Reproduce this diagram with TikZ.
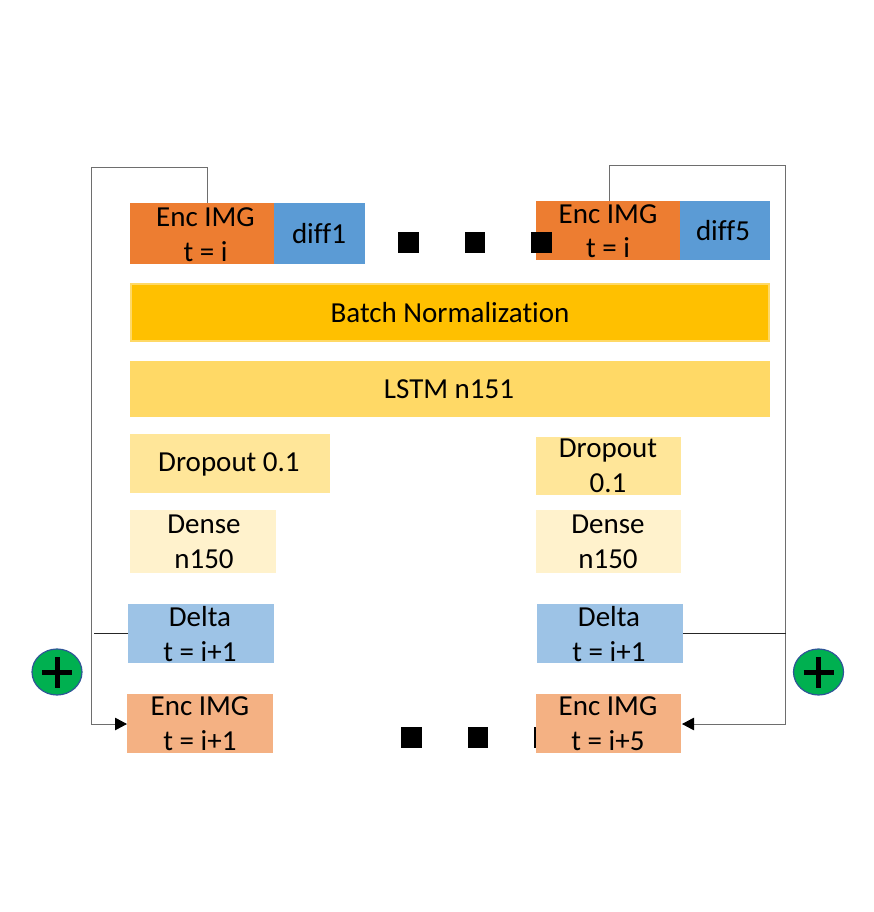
\documentclass[tikz,border=0pt]{standalone}
\usepackage{fontspec}
\setmainfont{Carlito}[Ligatures=NoCommon]
\usetikzlibrary{shapes.geometric,arrows.meta}
\definecolor{encdark}{HTML}{ED7D31}
\definecolor{diffblue}{HTML}{5B9BD5}
\definecolor{batchfill}{HTML}{FFC000}
\definecolor{batchedge}{HTML}{FFD966}
\definecolor{lstmfill}{HTML}{FFD966}
\definecolor{dropfill}{HTML}{FFE699}
\definecolor{densefill}{HTML}{FFF2CC}
\definecolor{deltafill}{HTML}{9DC3E6}
\definecolor{encsoft}{HTML}{F4B183}
\definecolor{plusgreen}{HTML}{00B050}
\definecolor{plusedge}{HTML}{2F5597}
\definecolor{wire}{HTML}{6E6E6E}
\tikzset{
  box/.style={anchor=center,inner sep=0pt,outer sep=0pt,draw=none,rectangle},
  txt/.style={anchor=center,inner sep=0pt,outer sep=0pt,align=center,text=black,font=\fontsize{29}{34.5}\selectfont},
  dotsq/.style={fill=black,inner sep=0pt,outer sep=0pt,minimum size=20.5pt,rectangle},
  wireline/.style={draw=wire,line width=1pt},
  darkline/.style={draw=black!85,line width=0.9pt},
  tipline/.style={-{Triangle[length=12pt,width=12.5pt,color=black,fill=black]}},
  plus/.style={ellipse,fill=plusgreen,draw=plusedge,line width=1.2pt,minimum width=50pt,minimum height=46pt,inner sep=0pt},
  plusbar/.style={line width=5pt,draw=black}
}
% name, x1, y1, x2, y2, colour
\newcommand{\bx}[6]{%
  \pgfmathsetmacro{\bw}{#4-#2}\pgfmathsetmacro{\bh}{#5-#3}%
  \node[box,fill=#6,minimum width=\bw pt,minimum height=\bh pt] (#1) at ({(#2+#4)/2},{(#3+#5)/2}) {};}
\begin{document}
\begin{tikzpicture}[x=1pt,y=-1pt]
\useasboundingbox (0,0) rectangle (874,912);
% bottom dots lie behind the last box
\node[dotsq] (db1) at (411.5,737.5) {};
\node[dotsq] (db2) at (478,737.5) {};
\node[dotsq] (db3) at (544,737.5) {};
% boxes
\bx{enc1}{130}{203}{274}{264}{encdark}
\bx{diff1}{274}{203}{365}{264}{diffblue}
\bx{enc5}{536}{201}{680}{260}{encdark}
\bx{diff5}{680}{201}{770}{260}{diffblue}
\node[box,fill=batchfill,draw=batchedge,line width=2pt,minimum width=638pt,minimum height=57pt] (batch) at (450,312.5) {};
\bx{lstm}{130}{361}{770}{417}{lstmfill}
\bx{dropL}{130}{434}{330}{493}{dropfill}
\bx{dropR}{536}{437}{681}{495}{dropfill}
\bx{denseL}{130}{510}{276}{573}{densefill}
\bx{denseR}{536}{510}{681}{573}{densefill}
\bx{deltaL}{128}{604}{274}{663}{deltafill}
\bx{deltaR}{537}{604}{683}{663}{deltafill}
\bx{encbL}{127}{694}{273}{753}{encsoft}
\bx{encbR}{536}{694}{681}{753}{encsoft}
% texts
\node[txt] (tenc1) at (205.5,234.5) {Enc IMG\\t = i};
\node[txt] (tdiff1) at (319,233.5) {diff1};
\node[txt] (tenc5) at (608,231) {Enc IMG\\t = i};
\node[txt] (tdiff5) at (723,231) {diff5};
\node[txt] (tbatch) at (450,313) {Batch Normalization};
\node[txt] (tlstm) at (449,389) {LSTM n151};
\node[txt] (tdropL) at (229,464.5) {Dropout 0.1};
\node[txt] (tdropR) at (608,466) {Dropout\\0.1};
\node[txt] (tdenseL) at (204,542) {Dense\\n150};
\node[txt] (tdenseR) at (608,542) {Dense\\n150};
\node[txt] (tdeltaL) at (200,634) {Delta\\t = i+1};
\node[txt] (tdeltaR) at (609,634) {Delta\\t = i+1};
\node[txt] (tencbL) at (200,723.5) {Enc IMG\\t = i+1};
\node[txt] (tencbR) at (608,723.5) {Enc IMG\\t = i+5};
% top dots
\node[dotsq] (dt1) at (408.3,242.7) {};
\node[dotsq] (dt2) at (475,242.7) {};
\node[dotsq] (dt3) at (541.7,242.7) {};
% plus signs
\node[plus] (plusL) at (57,672) {};
\draw[plusbar] ([xshift=-15pt]plusL.center) -- ([xshift=15pt]plusL.center);
\draw[plusbar] ([yshift=-15.5pt]plusL.center) -- ([yshift=15.5pt]plusL.center);
\node[plus] (plusR) at (818.5,672) {};
\draw[plusbar] ([xshift=-15pt]plusR.center) -- ([xshift=15pt]plusR.center);
\draw[plusbar] ([yshift=-15.5pt]plusR.center) -- ([yshift=15.5pt]plusR.center);
% connectors
\coordinate (cornerL) at (91.5,167.5);
\coordinate (cornerR) at (785.5,165.5);
\coordinate (stubL) at (94,633.5);
\draw[wireline,tipline] ([xshift=5pt]enc1.north) |- (cornerL) |- ([yshift=-0.5pt]encbL.west);
\draw[wireline,tipline] ([xshift=1pt]enc5.north) |- (cornerR) |- ([xshift=1pt,yshift=-0.5pt]encbR.east);
\draw[darkline] (deltaL.west) -- (stubL);
\draw[darkline] (deltaR.east) -- (deltaR.east -| cornerR);
\end{tikzpicture}
\end{document}
